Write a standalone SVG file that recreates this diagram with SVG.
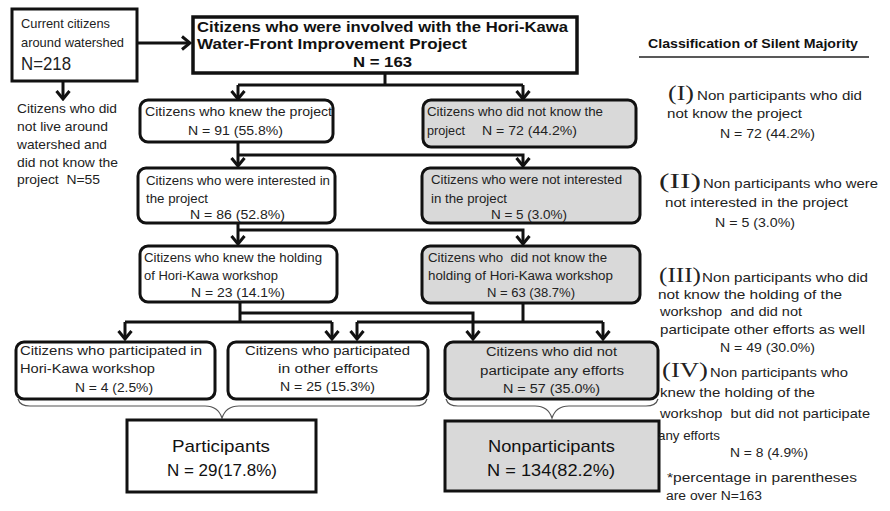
<svg xmlns="http://www.w3.org/2000/svg" width="890" height="511" viewBox="0 0 890 511">
<style>
.bg{fill:#fff}
.box{fill:#fff;stroke:#111;stroke-width:3}
.gray{fill:#d9d9d9}
.t{font-family:"Liberation Sans",Arial,sans-serif;font-size:12.5px;fill:#222}
.r{font-family:"Liberation Sans",Arial,sans-serif;font-size:13px;fill:#222}
.b{font-family:"Liberation Sans",Arial,sans-serif;font-weight:bold;fill:#111}
.rn{font-family:"Liberation Serif","Times New Roman",serif;font-size:20px;fill:#222}
.big{font-family:"Liberation Sans",Arial,sans-serif;font-size:17px;fill:#111}
.c{stroke:#111;stroke-width:3;fill:none}
.brace{stroke:#555;stroke-width:1.2;fill:none}
</style>
<defs>
<marker id="ah" markerUnits="userSpaceOnUse" viewBox="-10 -9 12 18" refX="0" refY="0" markerWidth="12" markerHeight="18" orient="auto">
<path d="M-8,-6.5 L0,0 L-8,6.5" fill="none" stroke="#111" stroke-width="3"/>
</marker>
</defs>
<rect class="bg" x="0" y="0" width="890" height="511"/>

<g id="connectors">
<path class="c" d="M137,43 H190" marker-end="url(#ah)"/>
<path class="c" d="M63,81 V99" marker-end="url(#ah)"/>
<path class="c" d="M385,73 V85"/>
<path class="c" d="M238,85 H523"/>
<path class="c" d="M238,85 V99" marker-end="url(#ah)"/>
<path class="c" d="M523,85 V99" marker-end="url(#ah)"/>
<path class="c" d="M238,142 V166" marker-end="url(#ah)"/>
<path class="c" d="M238,155 H523 V166" marker-end="url(#ah)"/>
<path class="c" d="M238,223 V244" marker-end="url(#ah)"/>
<path class="c" d="M238,230 H523 V244" marker-end="url(#ah)"/>
<path class="c" d="M240,302 V322"/>
<path class="c" d="M240,313 H473 V339" marker-end="url(#ah)"/>
<path class="c" d="M125,322 H332"/>
<path class="c" d="M125,322 V339" marker-end="url(#ah)"/>
<path class="c" d="M332,322 V339" marker-end="url(#ah)"/>
<path class="c" d="M523,303 V322"/>
<path class="c" d="M357,322 H603"/>
<path class="c" d="M357,322 V339" marker-end="url(#ah)"/>
<path class="c" d="M603,322 V339" marker-end="url(#ah)"/>
<path class="brace" d="M18,399 Q20,406 30,406 L205,406 Q218,406 222,418 Q226,406 239,406 L415,406 Q425,406 427,399"/>
<path class="brace" d="M446,399 Q448,406 458,406 L535,406 Q548,406 552,418 Q556,406 569,406 L646,406 Q656,406 658,399"/>
</g>

<g id="current">
<rect class="box" x="12" y="9" width="125" height="72"/>
<text class="r" x="21" y="28" textLength="89" lengthAdjust="spacingAndGlyphs">Current  citizens</text>
<text class="r" x="21" y="47" textLength="103" lengthAdjust="spacingAndGlyphs">around watershed</text>
<text class="r" x="21" y="70" style="font-size:19px" textLength="50" lengthAdjust="spacingAndGlyphs">N=218</text>
</g>

<g id="notlive">
<text class="r" x="17" y="113" textLength="100" lengthAdjust="spacingAndGlyphs">Citizens who did</text>
<text class="r" x="17" y="131" textLength="91" lengthAdjust="spacingAndGlyphs">not live around</text>
<text class="r" x="17" y="149" textLength="90" lengthAdjust="spacingAndGlyphs">watershed and</text>
<text class="r" x="17" y="167" textLength="101" lengthAdjust="spacingAndGlyphs">did not know the</text>
<text class="r" x="17" y="184" textLength="83" lengthAdjust="spacingAndGlyphs" xml:space="preserve">project  N=55</text>
</g>

<g id="involved">
<rect class="box" x="193" y="17" width="384" height="56" style="stroke-width:3.5"/>
<text class="b" x="197" y="32" style="font-size:15.5px" textLength="371" lengthAdjust="spacingAndGlyphs">Citizens who were involved with the Hori-Kawa</text>
<text class="b" x="197" y="49" style="font-size:15.5px" textLength="270" lengthAdjust="spacingAndGlyphs">Water-Front Improvement Project</text>
<text class="b" x="353" y="67" style="font-size:15.5px" textLength="59" lengthAdjust="spacingAndGlyphs">N = 163</text>
</g>

<g id="knew">
<rect class="box" x="140" y="100" width="193" height="42" rx="8"/>
<text class="t" x="145" y="116" textLength="187" lengthAdjust="spacingAndGlyphs">Citizens who knew the project</text>
<text class="t" x="188" y="135" textLength="95" lengthAdjust="spacingAndGlyphs">N = 91 (55.8%)</text>
</g>

<g id="notknew">
<rect class="box gray" x="423" y="100" width="213" height="47" rx="8"/>
<text class="t" x="427" y="116" textLength="176" lengthAdjust="spacingAndGlyphs">Citizens who did not know the</text>
<text class="t" x="427" y="135" textLength="38" lengthAdjust="spacingAndGlyphs">project</text>
<text class="t" x="482" y="135" textLength="95" lengthAdjust="spacingAndGlyphs">N = 72 (44.2%)</text>
</g>

<g id="interested">
<rect class="box" x="138" y="168" width="197" height="55" rx="8"/>
<text class="t" x="146" y="185" textLength="184" lengthAdjust="spacingAndGlyphs">Citizens who were interested in</text>
<text class="t" x="146" y="203" textLength="62" lengthAdjust="spacingAndGlyphs">the project</text>
<text class="t" x="190" y="219" textLength="95" lengthAdjust="spacingAndGlyphs">N = 86 (52.8%)</text>
</g>

<g id="notinterested">
<rect class="box gray" x="422" y="168" width="218" height="55" rx="8"/>
<text class="t" x="431" y="184" textLength="191" lengthAdjust="spacingAndGlyphs">Citizens who were not interested</text>
<text class="t" x="431" y="203" textLength="76" lengthAdjust="spacingAndGlyphs">in the project</text>
<text class="t" x="491" y="219" textLength="76" lengthAdjust="spacingAndGlyphs">N = 5 (3.0%)</text>
</g>

<g id="knewholding">
<rect class="box" x="140" y="246" width="197" height="56" rx="8"/>
<text class="t" x="144" y="262" textLength="178" lengthAdjust="spacingAndGlyphs">Citizens who knew the holding</text>
<text class="t" x="144" y="280" textLength="134" lengthAdjust="spacingAndGlyphs">of Hori-Kawa workshop</text>
<text class="t" x="191" y="297" textLength="94" lengthAdjust="spacingAndGlyphs">N = 23 (14.1%)</text>
</g>

<g id="notknewholding">
<rect class="box gray" x="422" y="246" width="218" height="57" rx="8"/>
<text class="t" x="428" y="262" textLength="179" lengthAdjust="spacingAndGlyphs" xml:space="preserve">Citizens who  did not know the</text>
<text class="t" x="428" y="280" textLength="185" lengthAdjust="spacingAndGlyphs">holding of Hori-Kawa workshop</text>
<text class="t" x="487" y="297" textLength="88" lengthAdjust="spacingAndGlyphs">N = 63 (38.7%)</text>
</g>

<g id="participatedws">
<rect class="box" x="16" y="342" width="199" height="57" rx="8"/>
<text class="t" x="20" y="355" textLength="182" lengthAdjust="spacingAndGlyphs">Citizens who participated in</text>
<text class="t" x="20" y="373" textLength="135" lengthAdjust="spacingAndGlyphs">Hori-Kawa workshop</text>
<text class="t" x="75" y="392" textLength="78" lengthAdjust="spacingAndGlyphs">N = 4 (2.5%)</text>
</g>

<g id="participatedother">
<rect class="box" x="228" y="342" width="200" height="57" rx="8"/>
<text class="t" x="245" y="355" textLength="165" lengthAdjust="spacingAndGlyphs">Citizens who participated</text>
<text class="t" x="278" y="373" textLength="100" lengthAdjust="spacingAndGlyphs">in other efforts</text>
<text class="t" x="280" y="391" textLength="95" lengthAdjust="spacingAndGlyphs">N = 25 (15.3%)</text>
</g>

<g id="notparticipated">
<rect class="box gray" x="445" y="342" width="213" height="57" rx="8"/>
<text class="t" x="486" y="356" textLength="131" lengthAdjust="spacingAndGlyphs">Citizens who did not</text>
<text class="t" x="480" y="375" textLength="144" lengthAdjust="spacingAndGlyphs">participate any efforts</text>
<text class="t" x="503" y="393" textLength="97" lengthAdjust="spacingAndGlyphs">N = 57 (35.0%)</text>
</g>

<g id="participants">
<rect class="box" x="127" y="420" width="189" height="72"/>
<text class="big" x="172" y="452" textLength="98" lengthAdjust="spacingAndGlyphs">Participants</text>
<text class="big" x="167" y="476" textLength="110" lengthAdjust="spacingAndGlyphs">N = 29(17.8%)</text>
</g>

<g id="nonparticipants">
<rect class="box gray" x="445" y="421" width="214" height="70"/>
<text class="big" x="488" y="452" textLength="127" lengthAdjust="spacingAndGlyphs">Nonparticipants</text>
<text class="big" x="487" y="476" textLength="128" lengthAdjust="spacingAndGlyphs">N = 134(82.2%)</text>
</g>

<g id="classification">
<text class="b" x="648" y="48" style="font-size:12.5px" textLength="210" lengthAdjust="spacingAndGlyphs">Classification of Silent Majority</text>
<line x1="639" y1="57" x2="869" y2="57" stroke="#222" stroke-width="1.5"/>

<text class="rn" x="668" y="100" textLength="26" lengthAdjust="spacingAndGlyphs">(I)</text>
<text class="r" x="697" y="100" textLength="165" lengthAdjust="spacingAndGlyphs">Non participants who did</text>
<text class="r" x="667" y="118" textLength="135" lengthAdjust="spacingAndGlyphs">not know the project</text>
<text class="r" x="720" y="138" textLength="95" lengthAdjust="spacingAndGlyphs">N = 72 (44.2%)</text>

<text class="rn" x="659" y="188" textLength="42" lengthAdjust="spacingAndGlyphs">(II)</text>
<text class="r" x="703" y="188" textLength="175" lengthAdjust="spacingAndGlyphs">Non participants who were</text>
<text class="r" x="665" y="207" textLength="183" lengthAdjust="spacingAndGlyphs">not interested in the project</text>
<text class="r" x="715" y="227" textLength="80" lengthAdjust="spacingAndGlyphs">N = 5 (3.0%)</text>

<text class="rn" x="659" y="282" textLength="42" lengthAdjust="spacingAndGlyphs">(III)</text>
<text class="r" x="702" y="282" textLength="166" lengthAdjust="spacingAndGlyphs">Non participants who did</text>
<text class="r" x="658" y="299" textLength="184" lengthAdjust="spacingAndGlyphs">not know the holding of the</text>
<text class="r" x="660" y="316" textLength="142" lengthAdjust="spacingAndGlyphs" xml:space="preserve">workshop  and did not</text>
<text class="r" x="660" y="334" textLength="205" lengthAdjust="spacingAndGlyphs">participate other efforts as well</text>
<text class="r" x="720" y="352" textLength="95" lengthAdjust="spacingAndGlyphs">N = 49 (30.0%)</text>

<text class="rn" x="662" y="377" textLength="46" lengthAdjust="spacingAndGlyphs">(IV)</text>
<text class="r" x="710" y="377" textLength="138" lengthAdjust="spacingAndGlyphs">Non participants who</text>
<text class="r" x="660" y="397" textLength="155" lengthAdjust="spacingAndGlyphs">knew the holding of the</text>
<text class="r" x="660" y="418" textLength="210" lengthAdjust="spacingAndGlyphs" xml:space="preserve">workshop  but did not participate</text>
<text class="r" x="658" y="440" textLength="62" lengthAdjust="spacingAndGlyphs">any efforts</text>
<text class="r" x="730" y="457" textLength="78" lengthAdjust="spacingAndGlyphs">N = 8 (4.9%)</text>

<text class="r" x="667" y="482" style="font-size:12px" textLength="190" lengthAdjust="spacingAndGlyphs">*percentage in parentheses</text>
<text class="r" x="666" y="500" style="font-size:12px" textLength="96" lengthAdjust="spacingAndGlyphs">are over N=163</text>
</g>
</svg>
